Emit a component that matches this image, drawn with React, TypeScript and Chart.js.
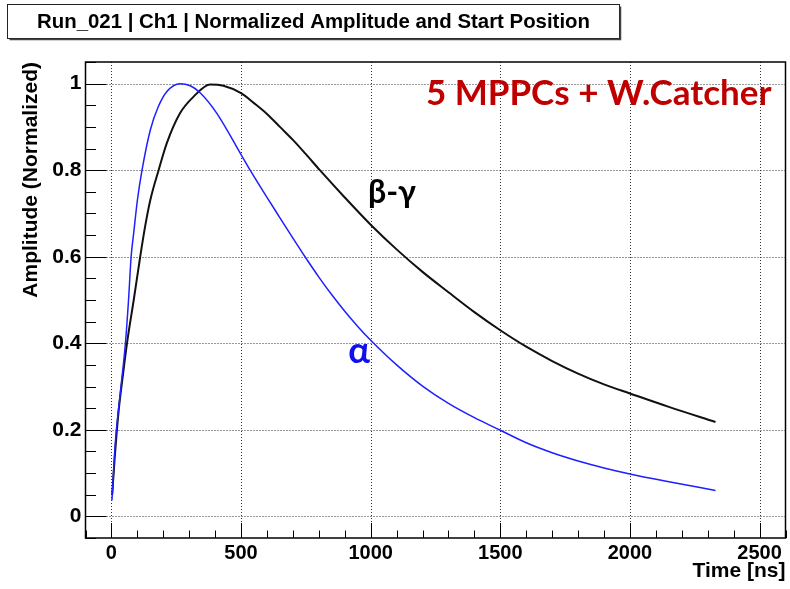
import React, { useEffect, useRef } from "react";
import { Chart, registerables } from "chart.js";

Chart.register(...registerables);

// ---- data ----
const alphaTime = [2, 15, 35, 54, 66, 76, 86, 100, 118, 150, 181, 214, 265, 304, 342, 406, 500, 535, 600, 650, 700, 750, 800, 850, 900, 950, 1000, 1100, 1200, 1300, 1400, 1500, 1600, 1700, 1800, 1900, 2000, 2150, 2330];
const alphaAmp = [0.037, 0.17, 0.29, 0.4, 0.5, 0.6, 0.655, 0.73, 0.8, 0.893, 0.947, 0.982, 1.0, 0.995, 0.979, 0.932, 0.836, 0.8, 0.737, 0.69, 0.643, 0.597, 0.553, 0.512, 0.474, 0.439, 0.407, 0.35, 0.301, 0.261, 0.228, 0.199, 0.17, 0.147, 0.128, 0.112, 0.098, 0.08, 0.06];

const betaTime = [3, 12, 28, 45, 60, 86, 111, 130, 150, 182, 214, 265, 317, 381, 432, 500, 550, 600, 650, 700, 750, 804, 900, 1000, 1100, 1200, 1300, 1400, 1500, 1600, 1700, 1800, 1900, 2000, 2150, 2330];
const betaAmp = [0.05, 0.13, 0.245, 0.33, 0.4, 0.5, 0.6, 0.67, 0.731, 0.8, 0.863, 0.932, 0.97, 0.998, 0.995, 0.978, 0.955, 0.93, 0.9, 0.87, 0.837, 0.8, 0.737, 0.674, 0.617, 0.565, 0.518, 0.472, 0.43, 0.392, 0.359, 0.33, 0.305, 0.284, 0.253, 0.218];

const xTickValues = [0, 500, 1000, 1500, 2000, 2500];
const xTickLabels = ["0", "500", "1000", "1500", "2000", "2500"];
const yTickValues = [0, 0.2, 0.4, 0.6, 0.8, 1];
const yTickLabels = ["0", "0.2", "0.4", "0.6", "0.8", "1"];

const titleText = "Run_021 | Ch1 | Normalized Amplitude and Start Position";
const xAxisTitle = "Time [ns]";
const yAxisTitle = "Amplitude (Normalized)";

const annotationTexts = ["5 MPPCs + W.Catcher", "β-γ", "α"];
const annotationX = [1213, 990, 913];
const annotationY = [0.951, 0.7245, 0.354];

// ---- styling ----
const AXIS_FONT = "'Liberation Sans', Arial, Helvetica, sans-serif";
const ANNOT_FONT = "Lato, 'Open Sans', 'Noto Sans', sans-serif";
const annotationStyles = [
  { color: "#c00000", font: `bold 35px ${ANNOT_FONT}` },
  { color: "#000000", font: `bold 32px ${ANNOT_FONT}` },
  { color: "#1010ee", font: `bold 36px ${ANNOT_FONT}` },
];

const rootPlugin = {
  id: "rootStyle",
  beforeDatasetsDraw(chart: any) {
    const { ctx, chartArea: a, scales } = chart;
    const x = scales.x;
    const y = scales.y;
    ctx.save();
    ctx.strokeStyle = "#333";
    ctx.lineWidth = 1;
    ctx.setLineDash([1, 2]);
    xTickValues.forEach((v) => {
      const px = Math.round(x.getPixelForValue(v)) + 0.5;
      ctx.beginPath();
      ctx.moveTo(px, a.top);
      ctx.lineTo(px, a.bottom);
      ctx.stroke();
    });
    yTickValues.forEach((v) => {
      const py = Math.round(y.getPixelForValue(v)) + 0.5;
      ctx.beginPath();
      ctx.moveTo(a.left, py);
      ctx.lineTo(a.right, py);
      ctx.stroke();
    });
    ctx.restore();
  },
  afterDatasetsDraw(chart: any) {
    const { ctx, chartArea: a, scales } = chart;
    const x = scales.x;
    const y = scales.y;
    ctx.save();
    // inner ticks
    ctx.strokeStyle = "#000";
    ctx.lineWidth = 1;
    const xMinor = 100;
    for (let k = Math.ceil(x.min / xMinor); k * xMinor <= x.max; k++) {
      const px = Math.round(x.getPixelForValue(k * xMinor)) + 0.5;
      const len = k % 5 === 0 ? 15 : 7.5;
      ctx.beginPath();
      ctx.moveTo(px, a.bottom);
      ctx.lineTo(px, a.bottom - len);
      ctx.stroke();
    }
    const yMinor = 0.05;
    for (let k = Math.ceil(y.min / yMinor - 1e-9); k * yMinor <= y.max + 1e-9; k++) {
      const py = Math.round(y.getPixelForValue(k * yMinor)) + 0.5;
      const len = k % 4 === 0 ? 21 : 10.5;
      ctx.beginPath();
      ctx.moveTo(a.left, py);
      ctx.lineTo(a.left + len, py);
      ctx.stroke();
    }
    // frame
    ctx.lineWidth = 1.5;
    ctx.strokeRect(a.left, a.top, a.right - a.left, a.bottom - a.top);

    // annotations
    ctx.textAlign = "left";
    ctx.textBaseline = "alphabetic";
    annotationTexts.forEach((t, i) => {
      ctx.fillStyle = annotationStyles[i].color;
      ctx.font = annotationStyles[i].font;
      ctx.fillText(t, x.getPixelForValue(annotationX[i]), y.getPixelForValue(annotationY[i]));
    });
    ctx.restore();
  },
  afterDraw(chart: any) {
    const { ctx } = chart;
    ctx.save();
    // title box (ROOT TPaveText style)
    const bx = 7.5, by = 4.5, bw = 612, bh = 34;
    ctx.fillStyle = "#fff";
    ctx.fillRect(bx, by, bw, bh);
    ctx.strokeStyle = "#222";
    ctx.lineWidth = 1;
    ctx.strokeRect(bx, by, bw, bh);
    ctx.strokeStyle = "#444";
    ctx.lineWidth = 1.5;
    ctx.beginPath();
    ctx.moveTo(bx + 2, by + bh + 1);
    ctx.lineTo(bx + bw + 1, by + bh + 1);
    ctx.lineTo(bx + bw + 1, by + 2);
    ctx.stroke();
    ctx.fillStyle = "#000";
    ctx.font = `bold 20.4px ${AXIS_FONT}`;
    ctx.textAlign = "center";
    ctx.textBaseline = "middle";
    ctx.fillText(titleText, bx + bw / 2, by + bh / 2 + 1);
    ctx.restore();
  },
};

export default function App() {
  const ref = useRef<HTMLCanvasElement>(null);

  useEffect(() => {
    const canvas = ref.current;
    if (!canvas) return;
    const chart = new Chart(canvas, {
      type: "line",
      data: {
        datasets: [
          {
            label: "alpha",
            data: alphaTime.map((t, i) => ({ x: t, y: alphaAmp[i] })),
            borderColor: "#1f1fff",
            borderWidth: 1.5,
            pointRadius: 0,
            cubicInterpolationMode: "monotone",
            fill: false,
          },
          {
            label: "beta-gamma",
            data: betaTime.map((t, i) => ({ x: t, y: betaAmp[i] })),
            borderColor: "#111",
            borderWidth: 2,
            pointRadius: 0,
            cubicInterpolationMode: "monotone",
            fill: false,
          },
        ],
      },
      options: {
        animation: false,
        responsive: false,
        devicePixelRatio: 1,
        layout: { padding: { top: 62, left: 0, right: 4.5, bottom: 0 } },
        plugins: {
          legend: { display: false },
          tooltip: { enabled: false },
          title: { display: false },
        },
        scales: {
          x: {
            type: "linear",
            min: -100,
            max: 2600,
            afterBuildTicks: (scale: any) => {
              scale.ticks = xTickValues.map((v) => ({ value: v }));
            },
            afterFit: (scale: any) => {
              scale.height = 51;
            },
            ticks: {
              autoSkip: false,
              maxRotation: 0,
              padding: 3,
              color: "#000",
              font: { family: AXIS_FONT, size: 20, weight: "bold" },
              callback: (v: any) => {
                const i = xTickValues.indexOf(Number(v));
                return i >= 0 ? xTickLabels[i] : "";
              },
            },
            grid: { display: false, drawTicks: false },
            border: { display: false },
            title: {
              display: true,
              text: xAxisTitle,
              align: "end",
              color: "#000",
              font: { family: AXIS_FONT, size: 21, weight: "bold" },
              padding: { top: 0, bottom: 4.7 },
            },
          },
          y: {
            type: "linear",
            min: -0.05,
            max: 1.05,
            afterBuildTicks: (scale: any) => {
              scale.ticks = yTickValues.map((v) => ({ value: v }));
            },
            afterFit: (scale: any) => {
              scale.width = 85.5;
            },
            ticks: {
              autoSkip: false,
              padding: 4,
              color: "#000",
              font: { family: AXIS_FONT, size: 21, weight: "bold" },
              callback: (v: any) => {
                const i = yTickValues.indexOf(Number(v));
                return i >= 0 ? yTickLabels[i] : "";
              },
            },
            grid: { display: false, drawTicks: false },
            border: { display: false },
            title: {
              display: true,
              text: yAxisTitle,
              align: "end",
              color: "#000",
              font: { family: AXIS_FONT, size: 21, weight: "bold" },
              padding: { top: 18.7, bottom: 0 },
            },
          },
        },
      },
      plugins: [rootPlugin],
    } as any);
    return () => chart.destroy();
  }, []);

  return (
    <div style={{ position: "fixed", left: 0, top: 0, width: 790, height: 589, background: "#fff" }}>
      <canvas ref={ref} width={790} height={589} style={{ display: "block", width: 790, height: 589 }} />
    </div>
  );
}
